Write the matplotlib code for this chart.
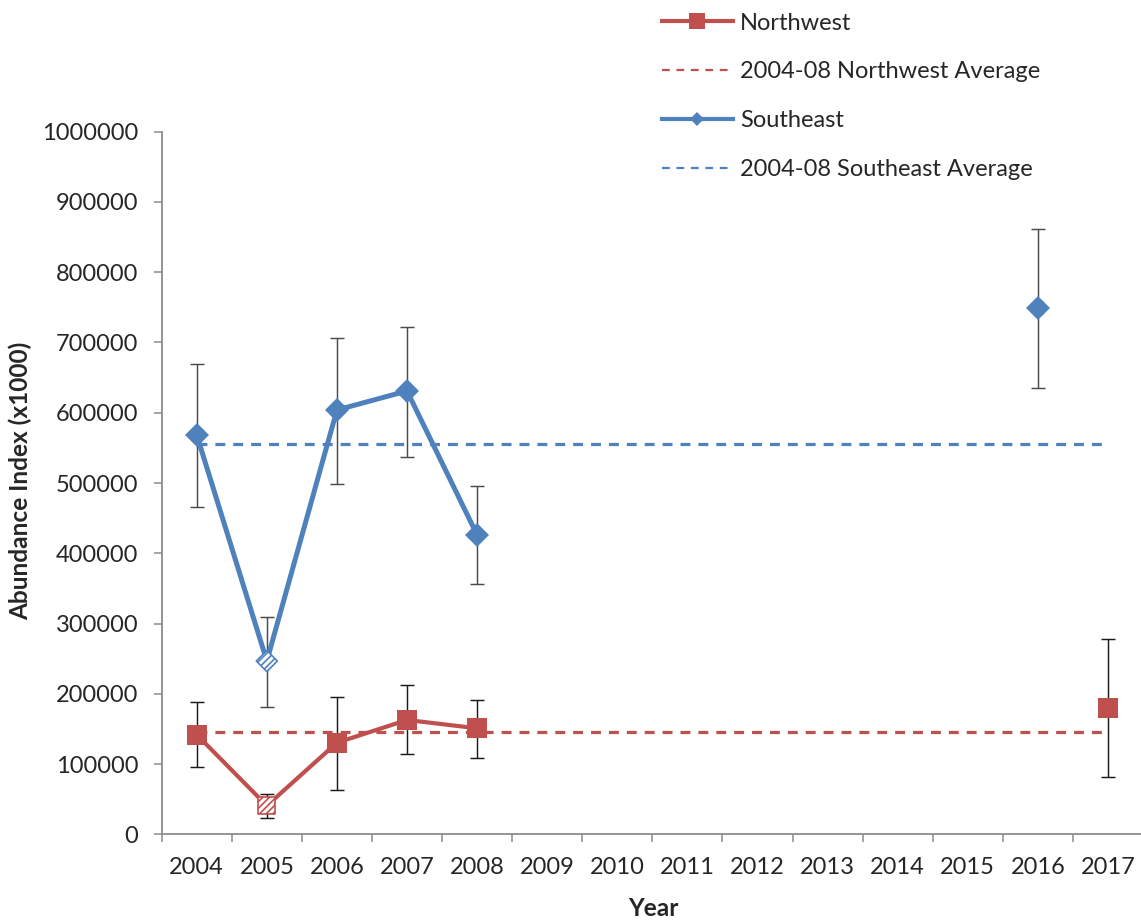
import numpy as np
import matplotlib
matplotlib.use("Agg")
import matplotlib.pyplot as plt
from matplotlib.lines import Line2D
from matplotlib.ticker import FixedLocator, StrMethodFormatter

plt.rcParams['font.family'] = ['Lato', 'DejaVu Sans']
plt.rcParams['hatch.linewidth'] = 1.2

# Survey years (category axis)
years = ['2004', '2005', '2006', '2007', '2008', '2009', '2010',
         '2011', '2012', '2013', '2014', '2015', '2016', '2017']

nan = np.nan
# Northwest abundance index (x1000) with lower / upper confidence limits
nw_value = [141800, 40700, 130400, 162700, 150900, nan, nan,
            nan, nan, nan, nan, nan, nan, 179300]
nw_upper = [188700, 57400, 195800, 212500, 190700, nan, nan,
            nan, nan, nan, nan, nan, nan, 278000]
nw_lower = [95800, 23600, 63500, 113900, 108600, nan, nan,
            nan, nan, nan, nan, nan, nan, 81500]

# Southeast abundance index (x1000) with lower / upper confidence limits
se_value = [568300, 246600, 603900, 631000, 426000, nan, nan,
            nan, nan, nan, nan, nan, 749500, nan]
se_upper = [669800, 309300, 706400, 721600, 495300, nan, nan,
            nan, nan, nan, nan, nan, 861100, nan]
se_lower = [465800, 181600, 498600, 537400, 356700, nan, nan,
            nan, nan, nan, nan, nan, 635600, nan]

# 2004-08 reference averages
nw_average = 146000
se_average = 556000

# Year whose estimate is flagged (drawn with hatched marker)
flagged_year = '2005'

NW_COLOR = '#C0504D'
SE_COLOR = '#4F81BD'
TEXT_COLOR = '#262626'
AXIS_COLOR = '#8C8C8C'
FS = 17

W, H = 1141, 921
fig = plt.figure(figsize=(W / 100, H / 100), dpi=100)
ax = fig.add_axes([161.7 / W, 1 - 834.3 / H, (1143 - 161.7) / W, (834.3 - 131.7) / H])

x = np.arange(len(years))
flag_idx = years.index(flagged_year)


def draw_series(vals, lo, hi, color, marker, ms, line_lw, flag_size, ecolor):
    vals = np.array(vals, dtype=float)
    lo = np.array(lo, dtype=float)
    hi = np.array(hi, dtype=float)
    ax.errorbar(x, vals, yerr=[vals - lo, hi - vals], fmt='none',
                ecolor=ecolor, elinewidth=1.05, capsize=5, capthick=1.05,
                zorder=2.5)
    ax.plot(x, vals, color=color, lw=line_lw, solid_joinstyle='round',
            solid_capstyle='round', zorder=3)
    solid = np.array([i for i in range(len(x))
                      if i != flag_idx and not np.isnan(vals[i])])
    ax.plot(x[solid], vals[solid], linestyle='none', marker=marker, ms=ms,
            color=color, markeredgewidth=0, zorder=4)
    ax.scatter([x[flag_idx]], [vals[flag_idx]], marker=marker, s=flag_size,
               facecolor='white', edgecolor=color, hatch='/////',
               linewidth=1.2, zorder=4)


# reference averages
ax.plot([x[0], x[-1]], [nw_average, nw_average], color=NW_COLOR, lw=2.3,
        linestyle=(0, (3.1, 2.5)), zorder=2)
ax.plot([x[0], x[-1]], [se_average, se_average], color=SE_COLOR, lw=2.3,
        linestyle=(0, (3.1, 2.5)), zorder=2)

draw_series(nw_value, nw_lower, nw_upper, NW_COLOR, 's', 15, 3.0, 150, '#1a1a1a')
draw_series(se_value, se_lower, se_upper, SE_COLOR, 'D', 12.2, 3.6, 115, '#4a4a4a')

# axes styling
ax.set_xlim(-0.5, len(years) - 0.5)
ax.set_ylim(0, 1000000)
for side in ('top', 'right'):
    ax.spines[side].set_visible(False)
for side in ('left', 'bottom'):
    ax.spines[side].set_color(AXIS_COLOR)
    ax.spines[side].set_linewidth(1.3)

ax.set_yticks(np.arange(0, 1000001, 100000))
ax.yaxis.set_major_formatter(StrMethodFormatter('{x:.0f}'))
ax.tick_params(axis='y', which='major', direction='out', length=6,
               width=1.1, color=AXIS_COLOR, pad=11, labelsize=FS,
               labelcolor=TEXT_COLOR)

ax.set_xticks(x)
ax.set_xticklabels(years)
ax.xaxis.set_minor_locator(FixedLocator(np.arange(-0.5, len(years), 1.0)))
ax.tick_params(axis='x', which='major', length=0, pad=16, labelsize=FS,
               labelcolor=TEXT_COLOR)
ax.tick_params(axis='x', which='minor', direction='out', length=6,
               width=1.1, color=AXIS_COLOR)

fig.text(20 / W, 1 - 481 / H, 'Abundance Index (x1000)', rotation=90,
         ha='center', va='center', fontsize=17.6, fontweight='bold',
         color=TEXT_COLOR)
fig.text(653 / W, 1 - 908 / H, 'Year', ha='center', va='center',
         fontsize=17.6, fontweight='bold', color=TEXT_COLOR)

# legend
handles = [
    Line2D([], [], color=NW_COLOR, lw=3.0, marker='s', ms=12, markeredgewidth=0),
    Line2D([], [], color=NW_COLOR, lw=1.6, linestyle=(0, (3.5, 3.0))),
    Line2D([], [], color=SE_COLOR, lw=3.0, marker='D', ms=7, markeredgewidth=0),
    Line2D([], [], color=SE_COLOR, lw=1.6, linestyle=(0, (3.5, 3.0))),
]
labels = ['Northwest', '2004-08 Northwest Average', 'Southeast',
          '2004-08 Southeast Average']
fig.legend(handles, labels, loc='upper left',
           bbox_to_anchor=(662 / W, 1 - 12.5 / H), frameon=False,
           fontsize=FS, handlelength=3.0, handletextpad=0.3,
           labelspacing=1.18, borderpad=0, borderaxespad=0,
           labelcolor=TEXT_COLOR)

fig.savefig('out.png', dpi=100)
